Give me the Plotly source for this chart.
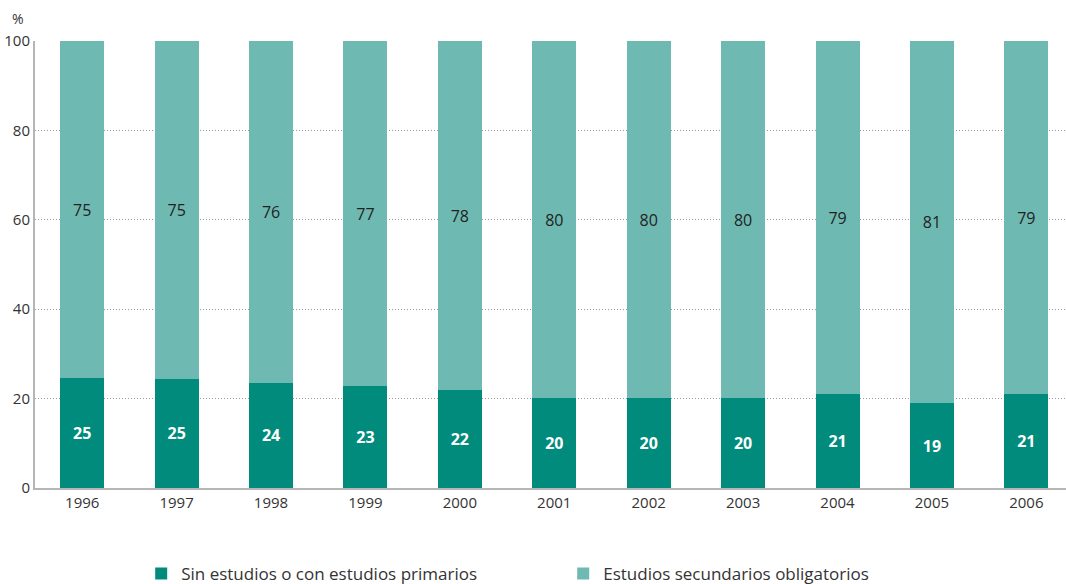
import plotly.graph_objects as go

years = ["1996", "1997", "1998", "1999", "2000", "2001", "2002", "2003", "2004", "2005", "2006"]
primarios = [24.6, 24.4, 23.5, 22.8, 21.9, 20.1, 20.1, 20.1, 21.0, 19.0, 21.0]
secundarios = [75.4, 75.6, 76.5, 77.2, 78.1, 79.9, 79.9, 79.9, 79.0, 81.0, 79.0]
primarios_lbl = ["25", "25", "24", "23", "22", "20", "20", "20", "21", "19", "21"]
secundarios_lbl = ["75", "75", "76", "77", "78", "80", "80", "80", "79", "81", "79"]
series_names = ["Sin estudios o con estudios primarios", "Estudios secundarios obligatorios"]
yticks = [0, 20, 40, 60, 80, 100]

DARK = "#008B7C"
LIGHT = "#6EBAB2"
FONT = "Open Sans"

fig = go.Figure()
fig.add_bar(x=years, y=primarios, name=series_names[0], marker_color=DARK,
            marker_line_width=0, width=0.466,
            text=primarios_lbl, texttemplate="<b>%{text}</b>", textposition="inside",
            insidetextanchor="middle", textangle=0,
            textfont=dict(color="white", size=16, family=FONT))
fig.add_bar(x=years, y=secundarios, name=series_names[1], marker_color=LIGHT,
            marker_line_width=0, width=0.466,
            text=secundarios_lbl, texttemplate="%{text}", textposition="inside",
            insidetextanchor="middle", textangle=0,
            textfont=dict(color="#222222", size=16, family=FONT))

fig.update_layout(
    barmode="stack",
    width=1066, height=584,
    margin=dict(l=35, r=0, t=41, b=96),
    plot_bgcolor="white", paper_bgcolor="white",
    font=dict(family=FONT, size=15, color="#333333"),
    uniformtext=dict(mode=False),
    xaxis=dict(type="category", range=[-0.5, 10.42], showline=True, linecolor="#B5B5B5",
               linewidth=2, ticks="", showgrid=False, automargin=False,
               tickfont=dict(size=15, color="#333333")),
    yaxis=dict(range=[0, 100], tickvals=yticks, showline=True, linecolor="#B5B5B5",
               linewidth=2, showgrid=True, gridcolor="#9A9A9A", griddash="1px,2px",
               gridwidth=1, ticks="", zeroline=False, automargin=False,
               tickfont=dict(size=15, color="#333333")),
    legend=dict(orientation="h", x=0.103, y=0.0479, xanchor="left", yanchor="top",
                yref="container",
                entrywidthmode="pixels", entrywidth=377,
                font=dict(size=17, color="#333333"),
                traceorder="normal"),
    annotations=[dict(text="%", x=-0.0165, y=1.051, xref="paper", yref="paper",
                      xanchor="center", yanchor="middle", showarrow=False,
                      font=dict(size=14, color="#333333"))],
)

fig.write_html("out.html", config={"displayModeBar": False},
               post_script="document.body.style.margin='0';document.body.style.padding='0';")
